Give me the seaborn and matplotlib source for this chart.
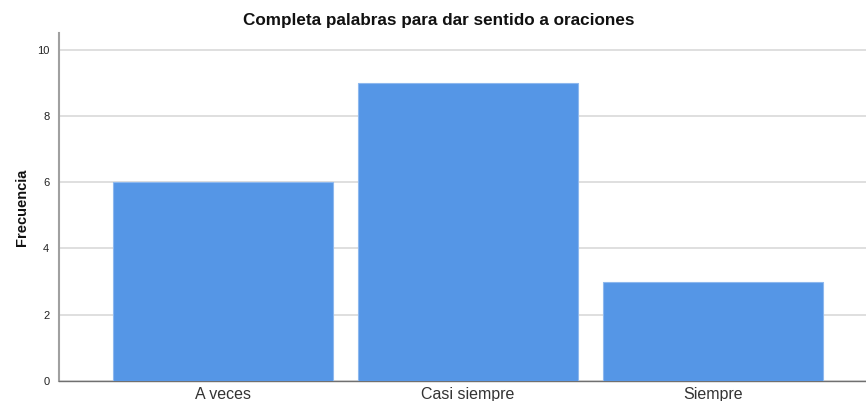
import pandas as pd
import matplotlib
matplotlib.use('Agg')
import matplotlib.pyplot as plt
import seaborn as sns

# Data
categories = ['A veces', 'Casi siempre', 'Siempre']
frecuencia = [6, 9, 3]

df = pd.DataFrame({'respuesta': categories, 'frecuencia': frecuencia})

sns.set_style('white')
plt.rcParams['font.family'] = ['Liberation Sans', 'DejaVu Sans']

fig = plt.figure(figsize=(8.66, 4.01), dpi=100)
ax = fig.add_axes([0.0681, 0.0499, 0.9319, 0.8678])

sns.barplot(data=df, x='respuesta', y='frecuencia', color='#5596E6',
            width=0.898, saturation=1, edgecolor='#8DB8EE', linewidth=0.8,
            ax=ax, zorder=3)

ax.set_xlim(-0.669, 2.624)
ax.set_ylim(0, 10.5)
ax.set_yticks([0, 2, 4, 6, 8, 10])
ax.yaxis.grid(True, color='#D9D9D9', linewidth=1.2, zorder=0)
ax.set_axisbelow(True)

for side in ['top', 'right']:
    ax.spines[side].set_visible(False)
ax.spines['left'].set_color('#A0A0A0')
ax.spines['left'].set_linewidth(1.5)
ax.spines['bottom'].set_color('#707070')
ax.spines['bottom'].set_linewidth(1.0)

ax.tick_params(axis='y', labelsize=8, length=0, pad=7, labelcolor='#222222')
ax.tick_params(axis='x', labelsize=11.5, length=0, pad=4, labelcolor='#333333')

ax.set_xlabel('')
ax.set_ylabel('Frecuencia', fontsize=10.5, fontweight='bold', labelpad=6,
              color='#111111')
ax.set_title('Completa palabras para dar sentido a oraciones', x=0.47,
             fontsize=12.3, fontweight='bold', pad=6, color='#111111')

fig.savefig('out.png', dpi=100)
